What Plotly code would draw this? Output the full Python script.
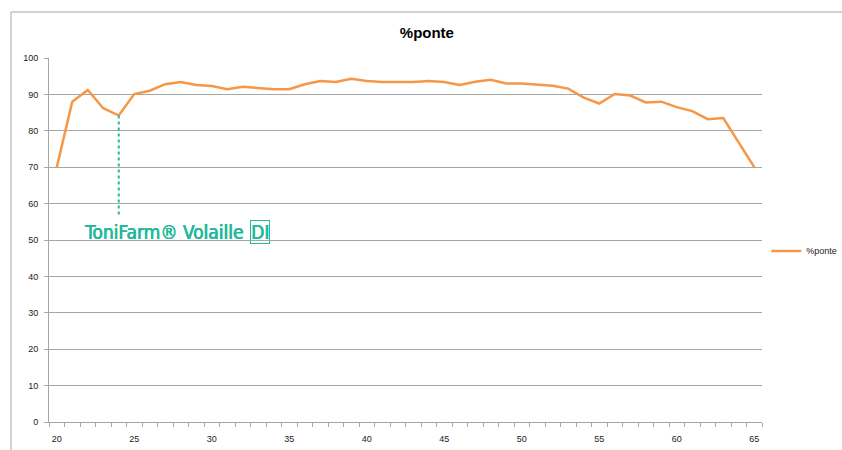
import plotly.graph_objects as go

weeks = list(range(20, 66))
ponte = [70.0, 88.0, 91.2, 86.2, 84.2, 90.1, 91.0, 92.8, 93.4, 92.6,
         92.3, 91.4, 92.1, 91.8, 91.4, 91.4, 92.8, 93.7, 93.4, 94.3,
         93.7, 93.4, 93.4, 93.4, 93.7, 93.4, 92.6, 93.5, 94.0, 93.0,
         93.0, 92.7, 92.4, 91.6, 89.1, 87.5, 90.1, 89.7, 87.8, 88.0,
         86.5, 85.4, 83.2, 83.5, 76.8, 70.0]
x_ticks = [20, 25, 30, 35, 40, 45, 50, 55, 60, 65]
y_ticks = [0, 10, 20, 30, 40, 50, 60, 70, 80, 90, 100]
marker_week = 24
marker_value = ponte[weeks.index(marker_week)]
marker_bottom = 56.5

TEAL = "#25b99b"
ORANGE = "#f79646"
GRID = "#a6a6a6"
FONT = "Liberation Sans, Arial, sans-serif"
BRAND_FONT = "DejaVu Sans Condensed, DejaVu Sans, sans-serif"
BRAND_SHADOW = "0.6px 0 0 #25b99b, 0 0.4px 0 #25b99b"

fig = go.Figure()
fig.add_trace(go.Scatter(
    x=weeks, y=ponte, mode="lines", name="%ponte",
    line=dict(color=ORANGE, width=2.5),
))

# dotted marker line
fig.add_shape(type="line", xref="x", yref="y",
              x0=marker_week, x1=marker_week, y0=marker_value, y1=marker_bottom,
              line=dict(color=TEAL, width=2, dash="dot"))

# outer chart frame (top and left edges)
fig.add_shape(type="line", xref="paper", yref="paper",
              x0=-0.0533, x1=1.2, y0=1.1264, y1=1.1264,
              line=dict(color="#a6a6a6", width=1))
fig.add_shape(type="line", xref="paper", yref="paper",
              x0=-0.0533, x1=-0.0533, y0=1.1264, y1=-0.2,
              line=dict(color="#a6a6a6", width=1))

fig.add_annotation(x=32.15, y=52.3, xref="x", yref="y", xanchor="right", yanchor="middle",
                   text="ToniFarm® Volaille", showarrow=False,
                   font=dict(family=BRAND_FONT, size=19, color=TEAL, shadow=BRAND_SHADOW))
fig.add_annotation(x=33.14, y=52.1, xref="x", yref="y", xanchor="center", yanchor="middle",
                   text="DI", showarrow=False, bordercolor=TEAL, borderwidth=1, borderpad=0,
                   font=dict(family=BRAND_FONT, size=19, color=TEAL, shadow=BRAND_SHADOW))

fig.update_layout(
    width=842, height=450,
    margin=dict(l=49, r=80, t=58, b=28, autoexpand=False),
    paper_bgcolor="white", plot_bgcolor="white",
    font=dict(family=FONT, size=9, color="#222222"),
    title=dict(text="<b>%ponte</b>", x=0.507, xref="container", y=0.928, yanchor="middle",
               font=dict(family=FONT, size=15, color="black"), automargin=False),
    showlegend=True,
    legend=dict(x=1.006, y=0.47, xanchor="left", yanchor="middle",
                font=dict(size=9, color="#222222"), bgcolor="rgba(0,0,0,0)"),
    xaxis=dict(range=[19.5, 65.5], tickmode="array", tickvals=x_ticks,
               ticktext=[str(v) for v in x_ticks], ticks="", showgrid=False,
               showline=True, linecolor=GRID, linewidth=1, zeroline=False,
               ticklabelstandoff=8, automargin=False,
               minor=dict(tick0=19.5, dtick=1, ticks="outside", ticklen=4,
                          tickcolor=GRID, showgrid=False)),
    yaxis=dict(range=[0, 100], tickmode="array", tickvals=y_ticks,
               ticks="outside", ticklen=4, tickcolor=GRID,
               showgrid=True, gridcolor=GRID, gridwidth=1,
               showline=True, linecolor=GRID, linewidth=1, zeroline=False,
               ticklabelstandoff=4, automargin=False),
)

fig.write_html("out.html", config={"displayModeBar": False},
               post_script="document.body.style.margin='0';document.body.style.overflow='hidden';")
